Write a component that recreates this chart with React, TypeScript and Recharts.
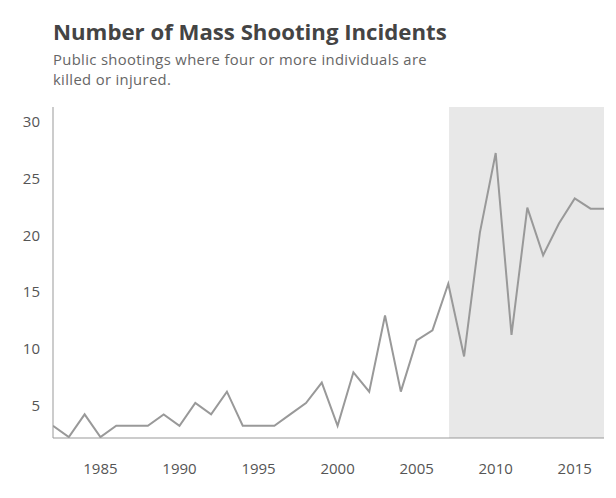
import { LineChart, Line, XAxis, YAxis, ReferenceArea } from "recharts";

const years = [
  1982, 1983, 1984, 1985, 1986, 1987, 1988, 1989, 1990, 1991, 1992, 1993,
  1994, 1995, 1996, 1997, 1998, 1999, 2000, 2001, 2002, 2003, 2004, 2005,
  2006, 2007, 2008, 2009, 2010, 2011, 2012, 2013, 2014, 2015, 2016, 2017,
];
const incidents = [
  3, 2, 4, 2, 3, 3, 3, 4, 3, 5, 4, 6,
  3, 3, 3, 4, 5, 6.8, 3, 7.7, 6, 12.7, 6, 10.5,
  11.4, 15.5, 9.1, 20, 27, 11, 22.2, 18, 20.8, 23, 22.1, 22.1,
];
const xTicks = [1985, 1990, 1995, 2000, 2005, 2010, 2015];
const yTicks = [5, 10, 15, 20, 25, 30];
// the plot is cut off a little before the last year
const xMin = 1982;
const xMax = 2016.85;
const shadeStart = 2007.05;

const data = years.map((year, i) => ({ year, count: incidents[i] }));

const FONT = "'Open Sans', sans-serif";

const XTick = ({ x, y, payload }: any) => (
  <text x={x} y={y} dy={36} textAnchor="middle" fill="#555" fontSize={15} fontFamily={FONT}>
    {payload.value}
  </text>
);

const YTick = ({ x, y, payload }: any) => (
  <text x={x - 13} y={y} dy={8} textAnchor="end" fill="#555" fontSize={15} fontFamily={FONT}>
    {payload.value}
  </text>
);

export default function App() {
  return (
    <div style={{ position: "absolute", left: 0, top: 0, width: 616, height: 498, background: "#fff" }}>
      <div
        style={{
          position: "absolute",
          left: 53,
          top: 17,
          fontFamily: FONT,
          fontWeight: 700,
          fontSize: 22.2,
          lineHeight: "30px",
          color: "#444",
          whiteSpace: "nowrap",
        }}
      >
        Number of Mass Shooting Incidents
      </div>
      <div
        style={{
          position: "absolute",
          left: 53,
          top: 49,
          fontFamily: FONT,
          fontSize: 14.8,
          letterSpacing: 0.35,
          lineHeight: "20px",
          color: "#666",
          whiteSpace: "nowrap",
        }}
      >
        <div>Public shootings where four or more individuals are</div>
        <div>killed or injured.</div>
      </div>
      <div style={{ position: "absolute", left: 0, top: 0 }}>
        <LineChart
          width={616}
          height={498}
          data={data}
          margin={{ top: 107, right: 12, bottom: 0, left: 0 }}
        >
          <ReferenceArea x1={shadeStart} x2={xMax} fill="#e8e8e8" fillOpacity={1} stroke="none" />
          <XAxis
            dataKey="year"
            type="number"
            domain={[xMin, xMax]}
            allowDataOverflow
            ticks={xTicks}
            tick={<XTick />}
            tickLine={false}
            tickSize={0}
            tickMargin={0}
            height={60}
            axisLine={{ stroke: "#999" }}
          />
          <YAxis
            type="number"
            domain={[1.92, 31.05]}
            ticks={yTicks}
            tick={<YTick />}
            tickLine={false}
            tickSize={0}
            tickMargin={0}
            width={53}
            axisLine={{ stroke: "#999" }}
            allowDataOverflow
          />
          <Line
            type="linear"
            dataKey="count"
            stroke="#999"
            strokeWidth={2}
            dot={false}
            isAnimationActive={false}
          />
        </LineChart>
      </div>
    </div>
  );
}
